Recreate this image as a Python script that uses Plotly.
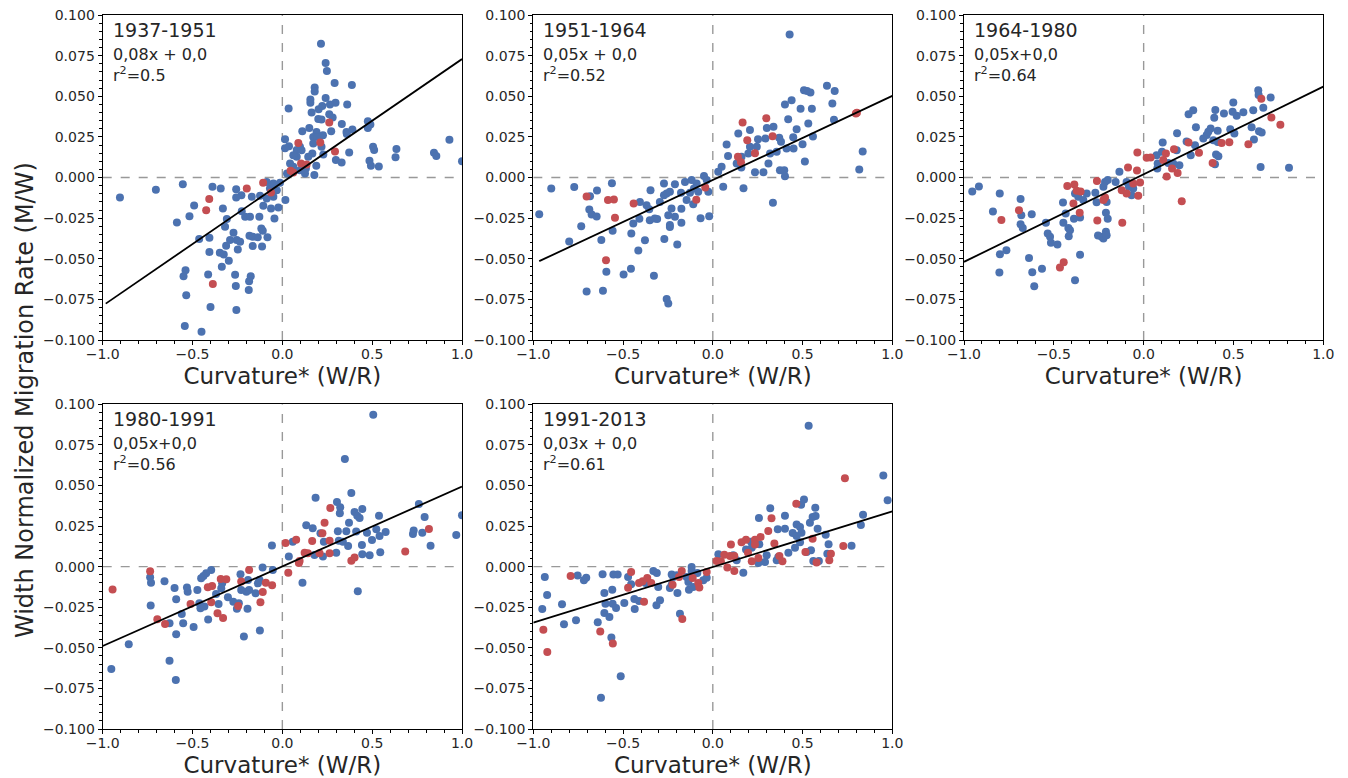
import plotly.graph_objects as go

# ---------------- data ----------------
periods = ["1937-1951", "1951-1964", "1964-1980", "1980-1991", "1991-2013"]
equations = ["0,08x + 0,0", "0,05x + 0,0", "0,05x+0,0", "0,05x+0,0", "0,03x + 0,0"]
r2_labels = ["0.5", "0.52", "0.64", "0.56", "0.61"]

slopes = [0.0759, 0.0517, 0.0539, 0.0491, 0.0343]
intercepts = [-0.003, -0.0015, 0.002, 0.0002, -0.0002]
line_x_start = [-0.983, -0.967, -1.0, -1.0, -1.0]
line_x_end = [1.0, 1.0, 1.0, 1.0, 1.0]

blue_p1_x = [0.215, 0.241, 0.248, 0.291, 0.387, 0.18, 0.18, 0.035, 0.156, 0.156, 0.241, 0.296, 0.361, 0.265,
             0.202, 0.222, 0.163, 0.261, 0.28, 0.2, 0.218, 0.331, 0.15, 0.111, 0.272, 0.357, 0.39, 0.359, 0.476,
             0.49, 0.476, 0.19, 0.226, 0.172, 0.196, 0.015, 0.037, 0.098, 0.015, 0.08, 0.107, 0.172, 0.218, 0.167,
             0.228, 0.372, 0.298, 0.33, 0.505, 0.511, 0.635, 0.63, 0.485, 0.493, 0.537, 0.93, 0.844, 0.857, 1.0,
             0.189, 0.178, 0.043, 0.061, 0.098, 0.131, 0.126, 0.08, 0.026, 0.061, 0.144,
             -0.904, -0.704, -0.554, -0.389, -0.343, -0.257, -0.491, -0.517, -0.587, -0.331, -0.228, -0.257,
             -0.17, -0.226, -0.207, -0.18, -0.128, -0.106, -0.063, -0.044, -0.022, 0.017, -0.087, -0.124, -0.05,
             -0.069, -0.05, -0.013, -0.087, -0.031, -0.309, -0.319, -0.463, -0.406, -0.291, -0.272, -0.254,
             -0.235, -0.313, -0.248, -0.183, -0.165, -0.137, -0.117, -0.109, -0.083, -0.165, -0.113, -0.406,
             -0.348, -0.326, -0.298, -0.337, -0.539, -0.55, -0.413, -0.263, -0.176, -0.185, -0.259, -0.187,
             -0.535, -0.4, -0.256, -0.543, -0.45]
blue_p1_y = [0.0823, 0.0705, 0.0656, 0.0582, 0.057, 0.0554, 0.053, 0.0424, 0.048, 0.046, 0.049, 0.046, 0.045,
             0.045, 0.042, 0.044, 0.04, 0.039, 0.037, 0.036, 0.0357, 0.033, 0.0305, 0.0285, 0.0285, 0.028, 0.0295,
             0.0268, 0.0346, 0.0326, 0.0305, 0.028, 0.026, 0.025, 0.025, 0.0236, 0.0193, 0.019, 0.018, 0.017,
             0.0168, 0.021, 0.019, 0.0148, 0.0141, 0.0154, 0.0107, 0.0092, 0.019, 0.017, 0.0176, 0.0125, 0.0103,
             0.0072, 0.0068, 0.0232, 0.0152, 0.0133, 0.01, 0.0072, 0.0016, 0.0086, 0.0066, 0.0045, 0.0055, 0.0025,
             0.0127, 0.0025, 0.0137, 0.0127,
             -0.0123, -0.0076, -0.0041, -0.0057, -0.0068, -0.0072, -0.0172, -0.0238, -0.0277, -0.0191, -0.0109,
             -0.0123, -0.0119, -0.0207, -0.0242, -0.0242, -0.0242, -0.0174, -0.0191, -0.0252, -0.0185, -0.0139,
             -0.0129, -0.0113, -0.0119, -0.0068, -0.0037, -0.0033, -0.0027, -0.0078, -0.0256, -0.0303, -0.0379,
             -0.0371, -0.0385, -0.034, -0.0385, -0.0396, -0.042, -0.0443, -0.0359, -0.0365, -0.0367, -0.0314,
             -0.0328, -0.0367, -0.0422, -0.0424, -0.0459, -0.0463, -0.0474, -0.0513, -0.0549, -0.057, -0.0607,
             -0.0597, -0.0599, -0.0607, -0.0638, -0.0668, -0.0693, -0.0724, -0.0797, -0.0816, -0.0914, -0.0949]
red_p1_x = [0.261, 0.089, 0.211, 0.293, 0.104, 0.135, 0.046, 0.061, -0.198, -0.107, -0.063, -0.407, -0.424, -0.387]
red_p1_y = [0.0338, 0.0213, 0.0215, 0.016, 0.0086, 0.008, 0.0041, 0.0031, -0.0068, -0.0033, -0.0092, -0.0133,
            -0.0201, -0.0656]

blue_p2_x = [0.428, 0.636, 0.679, 0.508, 0.525, 0.544, 0.439, 0.402, 0.666, 0.489, 0.552, 0.42, 0.675, 0.532,
             0.467, 0.338, 0.301, 0.207, 0.142, 0.077, 0.252, 0.293, 0.37, 0.448, 0.558, 0.38, 0.411, 0.45, 0.5,
             0.207, 0.245, 0.319, 0.356, 0.198, 0.16, 0.085, 0.513, 0.835, 0.816, 0.31, 0.374, 0.398, 0.402,
             0.235, 0.282, 0.159, 0.133, 0.049, 0.03, 0.058, 0.171, 0.335,
             -0.967, -0.9, -0.772, -0.8, -0.733, -0.688, -0.675, -0.647, -0.645, -0.562, -0.684, -0.621, -0.558,
             -0.593, -0.703, -0.612, -0.497, -0.456, -0.415, -0.454, -0.443, -0.409, -0.406, -0.378, -0.369,
             -0.354, -0.351, -0.347, -0.328, -0.323, -0.31, -0.295, -0.272, -0.272, -0.27, -0.257, -0.248, -0.257,
             -0.239, -0.23, -0.248, -0.239, -0.239, -0.211, -0.211, -0.198, -0.175, -0.175, -0.177, -0.155,
             -0.146, -0.127, -0.118, -0.109, -0.09, -0.081, -0.068, -0.049, -0.034, -0.025, -0.02, -0.105]
blue_p2_y = [0.088, 0.0564, 0.0533, 0.0537, 0.0533, 0.0523, 0.0476, 0.0449, 0.0455, 0.0423, 0.0423, 0.0359,
             0.0355, 0.0332, 0.0297, 0.0312, 0.0304, 0.0293, 0.0271, 0.0203, 0.0236, 0.024, 0.0244, 0.0248, 0.0252,
             0.022, 0.0178, 0.0178, 0.0205, 0.0189, 0.0189, 0.0148, 0.0158, 0.0148, 0.0127, 0.0133, 0.0098, 0.016,
             0.0049, 0.0086, 0.0045, 0.0045, 0.0008, 0.0033, 0.0033, 0.0062, 0.0086, 0.0066, 0.0035, -0.0057,
             -0.0066, -0.0156,
             -0.0226, -0.0068, -0.0059, -0.0394, -0.03, -0.0197, -0.0228, -0.024, -0.008, -0.0035, -0.0115,
             -0.0384, -0.0328, -0.058, -0.0702, -0.0697, -0.0597, -0.0562, -0.0449, -0.0345, -0.0283, -0.0254,
             -0.015, -0.0386, -0.017, -0.0195, -0.0263, -0.0078, -0.0605, -0.0252, -0.0256, -0.015, -0.0037,
             -0.0109, -0.0379, -0.0747, -0.0775, -0.0098, -0.0088, -0.0191, -0.0232, -0.0293, -0.0304, -0.0041,
             -0.0242, -0.0412, -0.0193, -0.0279, -0.0094, -0.0027, -0.0139, -0.0094, -0.0016, -0.0164, -0.0037,
             -0.0088, -0.025, 0.001, -0.0016, -0.0088, -0.0238, -0.0068]
red_p2_x = [0.797, 0.803, 0.298, 0.166, 0.192, 0.333, 0.235, 0.14, 0.157, -0.703, -0.584, -0.551, -0.545, -0.441,
            -0.595, -0.092, -0.042]
red_p2_y = [0.0394, 0.0398, 0.0365, 0.0338, 0.023, 0.0254, 0.015, 0.0127, 0.0094, -0.0117, -0.0139, -0.0135,
            -0.0248, -0.016, -0.0509, -0.0137, -0.0062]

blue_p3_x = [-0.954, -0.917, -0.801, -0.839, -0.685, -0.681, -0.685, -0.673, -0.623, -0.8, -0.764, -0.803, -0.638,
             -0.62, -0.566, -0.609, -0.544, -0.534, -0.521, -0.516, -0.48, -0.449, -0.447, -0.434, -0.419, -0.41,
             -0.417, -0.388, -0.382, -0.364, -0.354, -0.354, -0.382, -0.336, -0.317, -0.269, -0.262, -0.254,
             -0.234, -0.224, -0.21, -0.206, -0.21, -0.2, -0.206, -0.215, -0.224, -0.2, -0.156, -0.135, -0.095,
             -0.082, -0.067, -0.058,
             0.072, 0.078, 0.076, 0.106, 0.102, 0.137, 0.165, 0.184, 0.186, 0.199, 0.239, 0.25, 0.276, 0.262,
             0.286, 0.291, 0.332, 0.351, 0.36, 0.373, 0.388, 0.393, 0.399, 0.403, 0.397, 0.412, 0.412, 0.416,
             0.447, 0.482, 0.499, 0.495, 0.505, 0.518, 0.555, 0.601, 0.61, 0.614, 0.638, 0.64, 0.642, 0.657,
             0.666, 0.651, 0.707, 0.809]
blue_p3_y = [-0.0086, -0.0055, -0.0098, -0.0209, -0.0133, -0.0232, -0.0287, -0.031, -0.0226, -0.0472, -0.0447,
             -0.0585, -0.0496, -0.0583, -0.0562, -0.0669, -0.0279, -0.0345, -0.0365, -0.0402, -0.0412, -0.0154,
             -0.0279, -0.0221, -0.031, -0.0324, -0.0361, -0.0254, -0.0098, -0.0119, -0.0246, -0.0476, -0.0632,
             -0.0139, -0.0098, -0.0094, -0.0152, -0.0357, -0.0365, -0.0375, -0.0334, -0.0355, -0.0217, -0.0254,
             -0.015, -0.0027, -0.0057, -0.0016, -0.0027, 0.0035, -0.0027, -0.0057, -0.0109, -0.0068,
             0.0137, 0.0086, 0.0055, 0.0215, 0.0158, 0.009, 0.0086, 0.0168, 0.0273, 0.0076, 0.0222, 0.039, 0.0414,
             0.0137, 0.0199, 0.031, 0.024, 0.0261, 0.0281, 0.0302, 0.023, 0.0367, 0.0416, 0.0141, 0.0082, 0.0287,
             0.0219, 0.0131, 0.0394, 0.0297, 0.0462, 0.0404, 0.0271, 0.038, 0.0402, 0.031, 0.0414, 0.0234, 0.0537,
             0.0507, 0.0285, 0.0277, 0.0429, 0.0064, 0.0492, 0.006]
red_p3_x = [-0.792, -0.694, -0.425, -0.386, -0.373, -0.351, -0.391, -0.356, -0.466, -0.445, -0.26, -0.258,
            -0.224, -0.215, -0.119, -0.122, -0.095, -0.087, -0.037, -0.035, -0.03, -0.02, -0.058, 0.017, 0.039,
            0.124, 0.109, 0.128, 0.158, 0.169, 0.189, 0.212, 0.25, 0.308, 0.384, 0.434, 0.477, 0.583, 0.655,
            0.711, 0.761]
red_p3_y = [-0.0262, -0.0201, -0.0053, -0.0043, -0.0082, -0.0086, -0.016, -0.0217, -0.0554, -0.0521, -0.0021,
            -0.0265, -0.0139, -0.0123, -0.0279, -0.0078, -0.0098, 0.0062, 0.0043, 0.0154, -0.0113, -0.0031,
            -0.0037, 0.0121, 0.0123, 0.0148, 0.0107, 0.0006, 0.0055, 0.0174, 0.0027, -0.0146, 0.0215, 0.0152,
            0.009, 0.0213, 0.0217, 0.0205, 0.0484, 0.0369, 0.0324]

blue_p4_x = [0.506, 0.348, 0.384, 0.185, 0.304, 0.322, 0.32, 0.402, 0.417, 0.43, 0.445, 0.538, 0.371, 0.76,
             0.792, 1.0, 0.133, 0.169, 0.212, 0.309, 0.356, 0.411, 0.471, 0.523, 0.541, 0.575, 0.727, 0.731,
             0.779, 0.968, 0.825, 0.499, 0.443, 0.366, 0.314, 0.337, 0.3, 0.545, 0.486, 0.445, 0.231, 0.226,
             0.179, 0.058, -0.058, 0.036, 0.112, 0.42,
             -0.11, -0.053, -0.127, -0.136, -0.149, -0.125, -0.185, -0.191, -0.2, -0.229, -0.233, -0.214, -0.194,
             -0.253, -0.242, -0.273, -0.303, -0.335, -0.34, -0.355, -0.369, -0.396, -0.424, -0.439, -0.452,
             -0.473, -0.462, -0.456, -0.434, -0.413, -0.494, -0.527, -0.531, -0.552, -0.56, -0.591, -0.6, -0.591,
             -0.656, -0.628, -0.628, -0.593, -0.731, -0.736, -0.733, -0.855, -0.952]
blue_p4_y = [0.0936, 0.0663, 0.0454, 0.0425, 0.0398, 0.0366, 0.0329, 0.0337, 0.0314, 0.03, 0.0355, 0.0314,
             0.0271, 0.0386, 0.0306, 0.0316, 0.0255, 0.0236, 0.0205, 0.0218, 0.0218, 0.0216, 0.0209, 0.023,
             0.0189, 0.0214, 0.0201, 0.0222, 0.0209, 0.0195, 0.0129, 0.0164, 0.0133, 0.0127, 0.016, 0.0154,
             0.0086, 0.0088, 0.007, 0.0076, 0.0154, 0.0062, 0.0072, 0.0154, 0.0131, 0.0062, -0.0099, -0.0152,
             -0.0006, -0.0021, -0.0082, -0.0103, -0.0164, -0.0394, -0.0144, -0.0082, -0.0154, -0.0144, -0.0047,
             -0.0431, -0.0259, -0.0259, -0.0226, -0.0216, -0.0189, -0.0103, -0.0133, -0.023, -0.0168, -0.0021,
             -0.0041, -0.0057, -0.0072, -0.0144, -0.0226, -0.0257, -0.0246, -0.0326, -0.0372, -0.0154, -0.0129,
             -0.0349, -0.0292, -0.0201, -0.0131, -0.0417, -0.009, -0.0349, -0.0579, -0.0698, -0.0099, -0.0066,
             -0.024, -0.0478, -0.063]
red_p4_x = [0.267, 0.235, 0.223, 0.166, 0.077, 0.018, 0.263, 0.816, 0.684, 0.402, 0.384, 0.263, 0.207, 0.142,
            0.124, 0.096, 0.092, 0.033, -0.185, -0.229, -0.109, -0.092, -0.057, -0.122, -0.246, -0.312, -0.343,
            -0.391, -0.415, -0.396, -0.361, -0.33, -0.511, -0.696, -0.653, -0.736, -0.945]
red_p4_y = [0.0361, 0.0271, 0.0205, 0.0158, 0.0166, 0.0146, 0.016, 0.0232, 0.0094, 0.0057, 0.0037, 0.0082,
            0.0082, 0.0082, 0.0086, 0.0035, 0.0023, -0.0037, -0.0021, -0.0092, -0.0156, -0.0099, -0.0115, -0.022,
            -0.0242, -0.0078, -0.0076, -0.0119, -0.0127, -0.022, -0.0287, -0.0316, -0.023, -0.0324, -0.0353,
            -0.0029, -0.014]

blue_p5_x = [0.534, 0.95, 0.974, 0.508, 0.492, 0.571, 0.32, 0.257, 0.402, 0.556, 0.573, 0.541, 0.837, 0.825,
             0.467, 0.486, 0.362, 0.402, 0.584, 0.445, 0.467, 0.494, 0.629, 0.486, 0.458, 0.645, 0.773, 0.213,
             0.259, 0.217, 0.185, 0.3, 0.365, 0.421, 0.356, 0.291, 0.254, 0.031, 0.114, 0.133, 0.17, 0.523,
             0.547, 0.56, 0.591, 0.638,
             -0.936, -0.923, -0.95, -0.84, -0.829, -0.762, -0.753, -0.718, -0.705, -0.614, -0.604, -0.598,
             -0.604, -0.576, -0.641, -0.565, -0.513, -0.623, -0.56, -0.554, -0.53, -0.558, -0.539, -0.493,
             -0.472, -0.455, -0.437, -0.435, -0.411, -0.375, -0.331, -0.312, -0.304, -0.314, -0.294, -0.229,
             -0.22, -0.239, -0.229, -0.201, -0.197, -0.183, -0.146, -0.136, -0.133, -0.118, -0.109, -0.086,
             -0.053, -0.034, -0.118]
blue_p5_y = [0.0868, 0.0561, 0.0409, 0.0413, 0.0382, 0.0363, 0.0359, 0.03, 0.0314, 0.0306, 0.0312, 0.0271,
             0.032, 0.0257, 0.0259, 0.0244, 0.023, 0.0234, 0.0234, 0.0207, 0.0189, 0.0209, 0.0197, 0.015, 0.0117,
             0.0138, 0.0129, 0.0154, 0.0138, 0.0117, 0.0105, 0.007, 0.006, 0.0086, 0.0039, 0.0029, 0.0023, 0.0076,
             0.007, 0.0039, -0.0037, 0.009, 0.0101, 0.0035, 0.0035, 0.008,
             -0.0064, -0.0175, -0.0261, -0.0232, -0.0355, -0.033, -0.0055, -0.0084, -0.0068, -0.0047, -0.0162,
             -0.0228, -0.0285, -0.031, -0.0343, -0.0437, -0.0675, -0.0807, -0.0142, -0.0049, -0.0049, -0.0228,
             -0.0255, -0.0224, -0.0064, -0.0109, -0.0199, -0.0261, -0.0212, -0.0101, -0.0027, -0.0039, -0.0125,
             -0.0238, -0.0207, -0.0049, -0.0064, -0.0131, -0.0111, -0.0053, -0.0162, -0.029, -0.0064, -0.0095,
             -0.0142, -0.0002, -0.0125, -0.0039, -0.0084, -0.0068, -0.0027]
red_p5_x = [0.736, 0.465, 0.327, 0.309, 0.266, 0.235, 0.185, 0.16, 0.101, 0.235, 0.343, 0.556, 0.727, 0.196,
            0.064, 0.096, 0.12, 0.254, 0.217, 0.371, 0.388, 0.516, 0.658, 0.649, 0.578, 0.021, 0.045, 0.081,
            0.12, -0.034, -0.081, -0.075, -0.112, -0.173, -0.188, -0.224, -0.17, -0.455, -0.472, -0.411, -0.391,
            -0.365, -0.343, -0.383, -0.792, -0.944, -0.922, -0.627, -0.557]
red_p5_y = [0.0544, 0.0388, 0.0298, 0.022, 0.0183, 0.0166, 0.0166, 0.015, 0.0136, 0.0136, 0.0142, 0.0172,
            0.0127, 0.0086, 0.0074, 0.0066, 0.0066, 0.0053, 0.0033, 0.0066, 0.0033, 0.009, 0.008, 0.0039, 0.0025,
            0.0035, 0.0033, -0.0006, -0.0027, -0.0033, -0.0101, -0.0129, -0.007, -0.0027, -0.0064, -0.0111,
            -0.0322, -0.0033, -0.013, -0.0101, -0.009, -0.007, -0.0101, -0.0216, -0.0058, -0.0388, -0.0526,
            -0.04, -0.0474]

blue_x = [blue_p1_x, blue_p2_x, blue_p3_x, blue_p4_x, blue_p5_x]
blue_y = [blue_p1_y, blue_p2_y, blue_p3_y, blue_p4_y, blue_p5_y]
red_x = [red_p1_x, red_p2_x, red_p3_x, red_p4_x, red_p5_x]
red_y = [red_p1_y, red_p2_y, red_p3_y, red_p4_y, red_p5_y]

x_ticks = [-1.0, -0.5, 0.0, 0.5, 1.0]
x_tick_labels = ["\u22121.0", "\u22120.5", "0.0", "0.5", "1.0"]
y_ticks = [-0.1, -0.075, -0.05, -0.025, 0.0, 0.025, 0.05, 0.075, 0.1]
y_tick_labels = ["\u22120.100", "\u22120.075", "\u22120.050", "\u22120.025", "0.000", "0.025", "0.050", "0.075", "0.100"]

# ---------------- layout geometry ----------------
W, H = 1348, 778
col_px = [(102.7, 462.0), (533.3, 892.3), (964.0, 1323.3)]
row_px = [(15.0, 340.0), (404.3, 729.0)]
cells = [(0, 0), (0, 1), (0, 2), (1, 0), (1, 1)]

BLUE = "#4C72B0"
RED = "#C44E52"
FONT = "DejaVu Sans"
TXT = "#262626"

fig = go.Figure()
for i, (r, c) in enumerate(cells):
    sfx = "" if i == 0 else str(i + 1)
    xa, ya = "x" + sfx, "y" + sfx
    x0, x1 = col_px[c]
    yt, yb = row_px[r]
    fig.update_layout({
        "xaxis" + sfx: dict(
            domain=[x0 / W, x1 / W], anchor=ya, range=[-1, 1], automargin=False,
            tickvals=x_ticks, ticktext=x_tick_labels, ticks="outside", ticklen=4, tickwidth=1.2,
            tickcolor="black", showline=True, linecolor="black", linewidth=1.2, mirror=True,
            showgrid=False, zeroline=False, ticklabelstandoff=-3,
            tickfont=dict(family=FONT, size=14, color=TXT),
            minor=dict(dtick=0.1, tick0=0, ticks="outside", ticklen=2.5, tickcolor="black", showgrid=False),
            title=dict(text="Curvature* (W/R)", font=dict(family=FONT, size=23, color=TXT), standoff=6),
        ),
        "yaxis" + sfx: dict(
            domain=[1 - yb / H, 1 - yt / H], anchor=xa, range=[-0.1, 0.1], automargin=False,
            tickvals=y_ticks, ticktext=y_tick_labels, ticks="outside", ticklen=4, tickwidth=1.2,
            tickcolor="black", showline=True, linecolor="black", linewidth=1.2, mirror=True,
            showgrid=False, zeroline=False,
            tickfont=dict(family=FONT, size=14, color=TXT),
            minor=dict(dtick=0.005, tick0=0, ticks="outside", ticklen=2.5, tickcolor="black", showgrid=False),
        ),
    })
    # dashed reference lines
    fig.add_trace(go.Scatter(x=[0, 0], y=[-0.1, 0.1], mode="lines", xaxis=xa, yaxis=ya,
                             line=dict(color="#999999", width=1.4, dash="dash"), showlegend=False,
                             hoverinfo="skip"))
    fig.add_trace(go.Scatter(x=[-1, 1], y=[0, 0], mode="lines", xaxis=xa, yaxis=ya,
                             line=dict(color="#999999", width=1.4, dash="dash"), showlegend=False,
                             hoverinfo="skip"))
    fig.add_trace(go.Scatter(x=blue_x[i], y=blue_y[i], mode="markers", xaxis=xa, yaxis=ya,
                             marker=dict(color=BLUE, size=8, line=dict(width=0)), showlegend=False))
    fig.add_trace(go.Scatter(x=red_x[i], y=red_y[i], mode="markers", xaxis=xa, yaxis=ya,
                             marker=dict(color=RED, size=8, line=dict(width=0)), showlegend=False))
    lx = [line_x_start[i], line_x_end[i]]
    ly = [slopes[i] * v + intercepts[i] for v in lx]
    fig.add_trace(go.Scatter(x=lx, y=ly, mode="lines", xaxis=xa, yaxis=ya,
                             line=dict(color="black", width=1.8), showlegend=False))
    # annotations
    fig.add_annotation(text=periods[i], xref=xa + " domain", yref=ya + " domain", x=0.022, y=0.995,
                       xanchor="left", yanchor="top", showarrow=False,
                       font=dict(family=FONT, size=19, color=TXT))
    fig.add_annotation(text=equations[i] + "<br>r<sup>2</sup>=" + r2_labels[i],
                       xref=xa + " domain", yref=ya + " domain", x=0.022, y=0.915,
                       xanchor="left", yanchor="top", showarrow=False, align="left",
                       font=dict(family=FONT, size=16, color=TXT))

fig.add_annotation(text="Width Normalized Migration Rate (M/W)", xref="paper", yref="paper",
                   x=25 / W, y=1 - 400 / H, textangle=-90, showarrow=False,
                   xanchor="center", yanchor="middle", font=dict(family=FONT, size=24, color=TXT))

fig.update_layout(width=W, height=H, margin=dict(l=0, r=0, t=0, b=0, autoexpand=False),
                  paper_bgcolor="white", plot_bgcolor="white", showlegend=False)

fig.write_html("out.html", config={"displayModeBar": False},
               post_script="document.body.style.margin='0';document.body.style.overflow='hidden';")
